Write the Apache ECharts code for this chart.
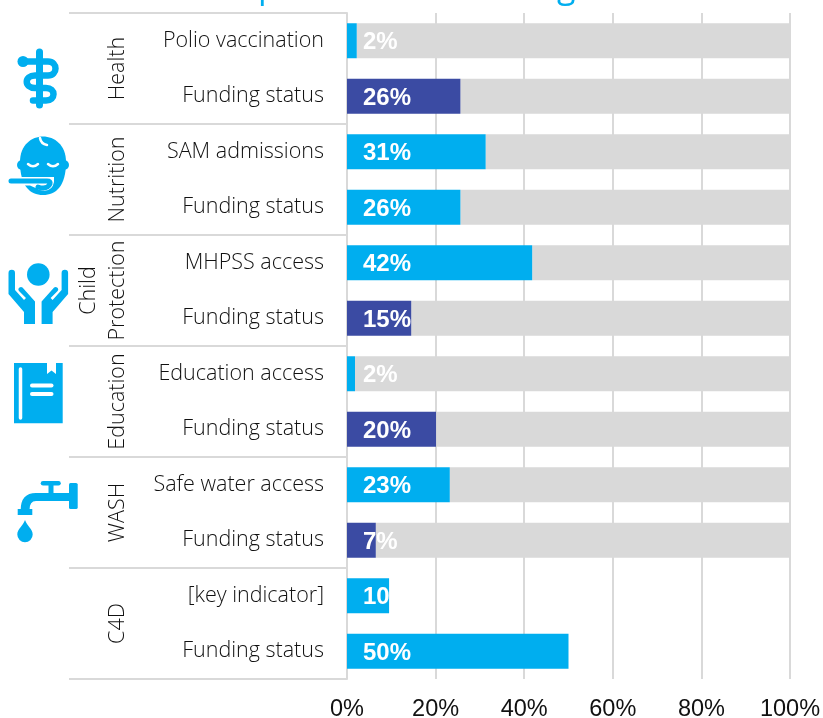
<!DOCTYPE html>
<html>
<head>
<meta charset="utf-8">
<title>Indicators and funding status</title>
<style>
    html, body { margin: 0; padding: 0; background: #fff; }
    #chart { width: 823px; height: 718px; }
</style>
<script src="https://cdn.jsdelivr.net/npm/echarts@6/dist/echarts.min.js"></script>
</head>
<body>
<div id="chart"></div>
<script>
// rows, top to bottom
var rowLabels = ['Polio vaccination', 'Funding status', 'SAM admissions', 'Funding status', 'MHPSS access', 'Funding status',
    'Education access', 'Funding status', 'Safe water access', 'Funding status', '[key indicator]', 'Funding status'];
var groupLabels = ['Health', 'Nutrition', 'Child\nProtection', 'Education', 'WASH', 'C4D'];
var values = [2.2, 25.6, 31.3, 25.6, 41.8, 14.5, 1.8, 20.1, 23.2, 6.5, 9.5, 50];
// rows drawn in the dark colour
var darkRows = [1, 5, 7, 9];
// rows without the grey remainder
var noRemainderRows = [10, 11];
var xTicks = [0, 20, 40, 60, 80, 100];

var BLUE = '#00aeef';
var DARK = '#3b4ba3';
var GREY = '#d9d9d9';
var LINE = '#d9d9d9';
var LABEL_FONT = '"Open Sans", "Noto Sans", sans-serif';

var remainder = values.map(function (v, i) {
    return noRemainderRows.indexOf(i) >= 0 ? null : 100 - v;
});

// graphic component has no plain path type, so svg paths get registered as shapes
var shapeCount = 0;
function pathType(pathData) {
    var name = 'iconPath' + (shapeCount++);
    echarts.graphic.registerShape(name, echarts.graphic.extendPath(pathData, {}));
    return name;
}

function icon(pathData, fill, extra) {
    return Object.assign({
        type: pathType(pathData),
        silent: true,
        style: { fill: fill }
    }, extra || {});
}

function strokeIcon(pathData, color, width) {
    return {
        type: pathType(pathData),
        silent: true,
        style: { fill: null, stroke: color, lineWidth: width, lineCap: 'round' }
    };
}

var handPath = 'M8.5 273 a3.2 3.2 0 0 1 6.5 0 V290 L24 300 L26 298 L19 291 a2.5 2.5 0 0 1 3.5 -3.5 L35 301.5 V324 H24 V312 L8.5 294 Z';

var icons = [
    // health
    icon('M36 52 a3.5 3.5 0 0 1 7 0 V105 a3.5 3.5 0 0 1 -7 0 Z', BLUE),
    strokeIcon('M22 61.5 H48 C58 61.5 58 75.5 48 75.5 H35 C24 75.5 24 88 35 88 H46 C56 88 56 100.5 46 100.5 H33', BLUE, 6.5),
    { type: 'circle', silent: true, shape: { cx: 23, cy: 61.5, r: 5.5 }, style: { fill: BLUE } },
    // nutrition
    { type: 'circle', silent: true, shape: { cx: 22, cy: 165, r: 5 }, style: { fill: BLUE } },
    { type: 'circle', silent: true, shape: { cx: 64, cy: 165, r: 5 }, style: { fill: BLUE } },
    icon('M20 162 C20 128 66 128 66 162 C66 186 56 195 43 195 C30 195 20 186 20 162 Z', BLUE),
    strokeIcon('M40 138 Q41 144 47 145', '#fff', 2.5),
    strokeIcon('M28 164 Q33 168.5 38 164', '#fff', 2.5),
    strokeIcon('M48 164 Q53 168.5 58 164', '#fff', 2.5),
    icon('M6 177 H54 V182 Q52 193 40 190 L30 185.5 H6 Z', '#fff'),
    strokeIcon('M11 181 H47 Q51 181 50 184 Q47 190 38 187', BLUE, 5),
    // child protection
    { type: 'circle', silent: true, shape: { cx: 38.3, cy: 274.5, r: 11.3 }, style: { fill: BLUE } },
    icon(handPath, BLUE),
    icon(handPath, BLUE, { x: 76.6, scaleX: -1 }),
    // education
    icon('M14 363 H62.7 V423.3 H14 Z', BLUE),
    icon('M47 362 V374 L51.5 370.5 L56 374 V362 Z', '#fff'),
    strokeIcon('M20.5 369 V418', '#fff', 3.5),
    strokeIcon('M32 385.5 H51.5', '#fff', 4),
    strokeIcon('M32 394 H51.5', '#fff', 4),
    // wash
    strokeIcon('M43 483.2 H58.5', BLUE, 4.5),
    icon('M48.5 483 H53.5 V495 H48.5 Z', BLUE),
    icon('M69 484.5 Q69 483 70.5 483 H76 Q77.7 483 77.7 484.5 V507.5 Q77.7 509 76 509 H70.5 Q69 509 69 507.5 Z', BLUE),
    icon('M20.7 510 Q20.7 493 36 493 H69 V501 H36 Q29.5 501 29.5 510 Z', BLUE),
    icon('M17.7 509 H32.3 V515 H17.7 Z', BLUE),
    icon('M25 520 C27 526 32.7 529 32.7 534.5 A7.7 7.7 0 0 1 17.3 534.5 C17.3 529 23 526 25 520 Z', BLUE)
];

// the title sits above the crop, only these descenders reach the picture
var titleBits = [
    { type: 'text', silent: true, x: 258, y: -29, style: { text: 'p', fill: BLUE, font: '400 34px ' + LABEL_FONT } },
    { type: 'text', silent: true, x: 557, y: -29, style: { text: 'g', fill: BLUE, font: '400 34px ' + LABEL_FONT } }
];

var myChart = echarts.init(document.getElementById('chart'), null, { renderer: 'canvas' });

myChart.setOption({
    animation: false,
    backgroundColor: '#fff',
    graphic: { elements: icons.concat(titleBits) },
    // outerBounds would shrink the grid because of the low tick labels
    grid: { left: 347, top: 13, width: 443, height: 666, containLabel: false, outerBoundsMode: 'none' },
    xAxis: {
        type: 'value',
        min: xTicks[0],
        max: xTicks[xTicks.length - 1],
        interval: 20,
        axisLine: { show: false },
        axisTick: { show: false },
        axisLabel: {
            formatter: '{value}%',
            color: '#111',
            fontFamily: '"Liberation Sans", Arial, sans-serif',
            fontSize: 23.5,
            margin: 19
        },
        splitLine: { show: true, lineStyle: { color: LINE, width: 2 } }
    },
    yAxis: [
        {
            type: 'category',
            inverse: true,
            data: rowLabels,
            axisLine: { show: true, lineStyle: { color: LINE, width: 2 } },
            axisTick: { show: false },
            axisLabel: {
                interval: 0,
                color: '#111',
                fontFamily: LABEL_FONT,
                fontWeight: 300,
                fontSize: 21.5,
                margin: 23,
                padding: [3, 0, 0, 0]
            }
        },
        {
            type: 'category',
            inverse: true,
            position: 'left',
            data: groupLabels,
            axisLine: { show: false },
            axisTick: { show: true, length: 278, lineStyle: { color: LINE, width: 2 } },
            axisLabel: {
                interval: 0,
                rotate: 90,
                color: '#111',
                fontFamily: LABEL_FONT,
                fontWeight: 300,
                fontSize: 21.5,
                lineHeight: 29,
                margin: 215
            }
        }
    ],
    series: [
        {
            name: 'Value',
            type: 'bar',
            stack: 'row',
            z: 3,
            barWidth: 35,
            data: values.map(function (v, i) {
                return { value: v, itemStyle: { color: darkRows.indexOf(i) >= 0 ? DARK : BLUE } };
            }),
            label: {
                show: true,
                position: 'insideLeft',
                distance: 16,
                offset: [0, 2],
                color: '#fff',
                fontFamily: '"Liberation Sans", Arial, sans-serif',
                fontWeight: 'bold',
                fontSize: 24,
                formatter: function (p) {
                    return Math.round(p.value) + '%';
                }
            }
        },
        {
            name: 'Remainder',
            type: 'bar',
            stack: 'row',
            z: 2,
            barWidth: 35,
            itemStyle: { color: GREY },
            data: remainder
        }
    ]
});
</script>
</body>
</html>
